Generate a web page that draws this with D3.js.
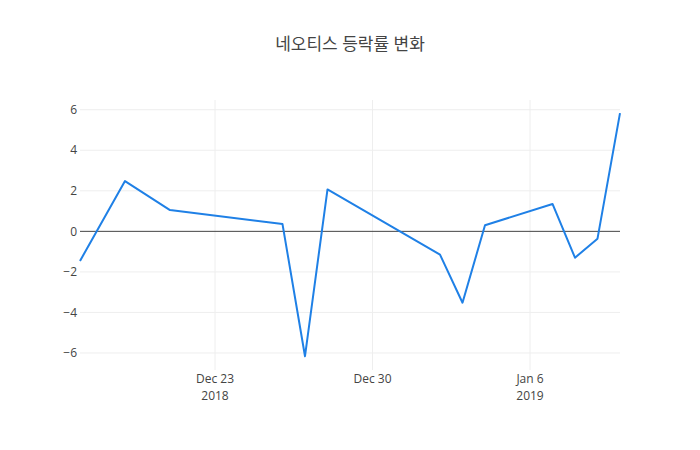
<!DOCTYPE html>
<html>
<head>
<meta charset="utf-8">
<script src="https://cdn.jsdelivr.net/npm/d3@7"></script>
<style>
  body { margin: 0; background: #fff; }
  text { font-family: "Open Sans", "Noto Sans CJK KR", sans-serif; fill: #444; }
</style>
</head>
<body>
<svg id="chart" width="700" height="450"></svg>
<script>
// 일자별 등락률 (%)
const dates = ["2018-12-17", "2018-12-19", "2018-12-21", "2018-12-26", "2018-12-27",
               "2018-12-28", "2019-01-02", "2019-01-03", "2019-01-04", "2019-01-07",
               "2019-01-08", "2019-01-09", "2019-01-10"];
const rates = [-1.46, 2.48, 1.05, 0.36, -6.16, 2.07, -1.15, -3.52, 0.30, 1.35, -1.30, -0.36, 5.83];
const yTicks = [-6, -4, -2, 0, 2, 4, 6];
const xTicks = ["2018-12-23", "2018-12-30", "2019-01-06"];
const xTickLabels = [["Dec 23", "2018"], ["Dec 30", ""], ["Jan 6", "2019"]];
const title = "네오티스 등락률 변화";

const W = 700, H = 450;
const margin = {top: 100, right: 80, bottom: 80, left: 80};
const parse = d3.timeParse("%Y-%m-%d");

const svg = d3.select("#chart");

const x = d3.scaleTime()
    .domain([parse(dates[0]), parse(dates[dates.length - 1])])
    .range([margin.left, W - margin.right]);

const y = d3.scaleLinear()
    .domain([-6.84, 6.48])
    .range([H - margin.bottom, margin.top]);

// 격자
svg.append("g").selectAll("line")
    .data(xTicks)
    .join("line")
    .attr("x1", d => x(parse(d))).attr("x2", d => x(parse(d)))
    .attr("y1", margin.top).attr("y2", H - margin.bottom)
    .attr("stroke", "#eee").attr("stroke-width", 1);

svg.append("g").selectAll("line")
    .data(yTicks.filter(d => d !== 0))
    .join("line")
    .attr("x1", margin.left).attr("x2", W - margin.right)
    .attr("y1", d => y(d)).attr("y2", d => y(d))
    .attr("stroke", "#eee").attr("stroke-width", 1);

// 0 기준선
svg.append("line")
    .attr("x1", margin.left).attr("x2", W - margin.right)
    .attr("y1", y(0)).attr("y2", y(0))
    .attr("stroke", "#444").attr("stroke-width", 1);

// 선
const line = d3.line()
    .x((d, i) => x(parse(dates[i])))
    .y(d => y(d));

svg.append("path")
    .datum(rates)
    .attr("d", line)
    .attr("fill", "none")
    .attr("stroke", "#1f80e6")
    .attr("stroke-width", 2)
    .attr("stroke-linejoin", "round");

// y축 라벨
svg.append("g").selectAll("text")
    .data(yTicks)
    .join("text")
    .attr("x", margin.left - 3)
    .attr("y", d => y(d))
    .attr("dy", "0.35em")
    .attr("text-anchor", "end")
    .attr("font-size", 12)
    .text(d => d < 0 ? "\u2212" + Math.abs(d) : d);

// x축 라벨
const xl = svg.append("g").selectAll("g")
    .data(xTicks)
    .join("g")
    .attr("transform", (d, i) => `translate(${x(parse(d))},0)`);

xl.append("text")
    .attr("y", H - margin.bottom + 13)
    .attr("text-anchor", "middle")
    .attr("font-size", 12)
    .text((d, i) => xTickLabels[i][0]);

xl.append("text")
    .attr("y", H - margin.bottom + 30)
    .attr("text-anchor", "middle")
    .attr("font-size", 12)
    .text((d, i) => xTickLabels[i][1]);

// 제목
svg.append("text")
    .attr("x", W / 2)
    .attr("y", 50)
    .attr("text-anchor", "middle")
    .attr("font-size", 17)
    .text(title);
</script>
</body>
</html>
